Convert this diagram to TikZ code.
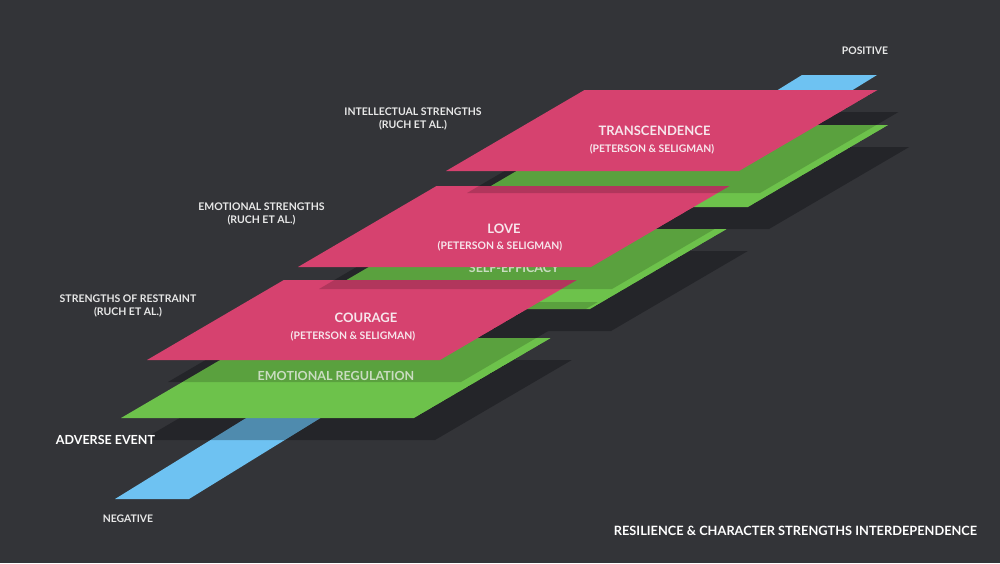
\documentclass[tikz,border=0pt]{standalone}
\usepackage{fontspec}
\setmainfont{Lato}
\definecolor{bgc}{HTML}{333438}
\definecolor{shadowc}{HTML}{242529}
\definecolor{pinkc}{HTML}{D6426F}
\definecolor{greenc}{HTML}{6DC24B}
\definecolor{bluec}{HTML}{6EC2F2}
\definecolor{labelc}{HTML}{E8E8E8}
\definecolor{pinktext}{HTML}{F7E6EC}
\definecolor{greentext}{HTML}{C9DCC0}
\begin{document}
\begin{tikzpicture}[x=1pt,y=-1pt,
  pinkplane/.style={fill=pinkc},
  greenplane/.style={fill=greenc},
  blueplane/.style={fill=bluec},
  bgshadow/.style={fill=shadowc, shift={(21,22)}},
  softshadow/.style={fill=black, fill opacity=0.17, shift={(21,22)}},
  blueshadow/.style={fill=black, fill opacity=0.28, shift={(21,22)}},
  sidelabel/.style={text=labelc, font=\bfseries\fontsize{10.5}{13}\selectfont, align=center, inner sep=0pt},
  planetitle/.style={text=pinktext, font=\bfseries\fontsize{13}{15}\selectfont, inner sep=0pt},
  planesub/.style={text=pinktext, font=\bfseries\fontsize{10.4}{12}\selectfont, inner sep=0pt},
  greenlabel/.style={text=greentext, font=\bfseries\fontsize{12.5}{15}\selectfont, inner sep=0pt},
  polelabel/.style={text=labelc, font=\bfseries\fontsize{10.4}{12}\selectfont, inner sep=0pt},
]
\useasboundingbox (0,0) rectangle (1000,563);
\fill[bgc] (0,0) rectangle (1000,563);

% plane outlines (pixel coordinates, y downwards)
\def\PT{(446,171) -- (739,171) -- (877.5,90) -- (584.5,90) -- cycle}
\def\PL{(298,267) -- (591,267) -- (729.5,186) -- (436.5,186) -- cycle}
\def\PC{(147,360) -- (440,360) -- (576.8,280) -- (283.8,280) -- cycle}
\def\GT{(455,207) -- (748,207) -- (888.2,125) -- (595.2,125) -- cycle}
\def\GSE{(297,309) -- (590,309) -- (726.8,229) -- (433.8,229) -- cycle}
\def\GER{(121,418) -- (414,418) -- (550.8,338) -- (257.8,338) -- cycle}
\def\BL{(115,499) -- (189,499) -- (877,75) -- (802,75) -- cycle}

% drop shadows on the background
\fill[bgshadow] \GT;
\fill[bgshadow] \GSE;
\fill[bgshadow] \GER;
\fill[bgshadow] \PT;
\fill[bgshadow] \PL;
\fill[bgshadow] \PC;

% blue axis
\fill[blueplane] \BL;

\begin{scope}
  \clip \GT \GSE \GER \PT \PL \PC \BL;
  \fill[blueshadow] \GER;
  \fill[greenplane] \GT;
  \fill[greenplane] \GSE;
  \fill[greenplane] \GER;
  \fill[softshadow] \PC;
  \fill[pinkplane] \PC;
  \node[greenlabel] (er) at (336,376) {EMOTIONAL REGULATION};
  \fill[softshadow] \PL;
  \node[greenlabel] (se) at (514,268) {SELF-EFFICACY};
  \fill[pinkplane] \PL;
  \fill[softshadow] \PT;
  \fill[pinkplane] \PT;
\end{scope}

% texts on the pink planes
\node[planetitle] (tr) at (654.5,131) {TRANSCENDENCE};
\node[planesub] (trs) at (652,149) {(PETERSON \& SELIGMAN)};
\node[planetitle] (lo) at (504,229) {LOVE};
\node[planesub] (los) at (500,246) {(PETERSON \& SELIGMAN)};
\node[planetitle] (co) at (366,318) {COURAGE};
\node[planesub] (cos) at (353,336) {(PETERSON \& SELIGMAN)};

% side labels
\node[sidelabel] (intel) at (413,119) {INTELLECTUAL STRENGTHS\\(RUCH ET AL.)};
\node[sidelabel] (emo) at (261.5,213.5) {EMOTIONAL STRENGTHS\\(RUCH ET AL.)};
\node[sidelabel] (restr) at (128,306) {STRENGTHS OF RESTRAINT\\(RUCH ET AL.)};

% axis labels
\node[polelabel] (pos) at (865,51) {POSITIVE};
\node[polelabel] (neg) at (128,519) {NEGATIVE};
\node[text=white, font=\bfseries\fontsize{12.5}{14}\selectfont, inner sep=0pt] (adv) at (105.5,440) {ADVERSE EVENT};
\node[text=white, font=\bfseries\fontsize{12.8}{14}\selectfont, inner sep=0pt] (title) at (795.5,531) {RESILIENCE \& CHARACTER STRENGTHS INTERDEPENDENCE};
\end{tikzpicture}
\end{document}
